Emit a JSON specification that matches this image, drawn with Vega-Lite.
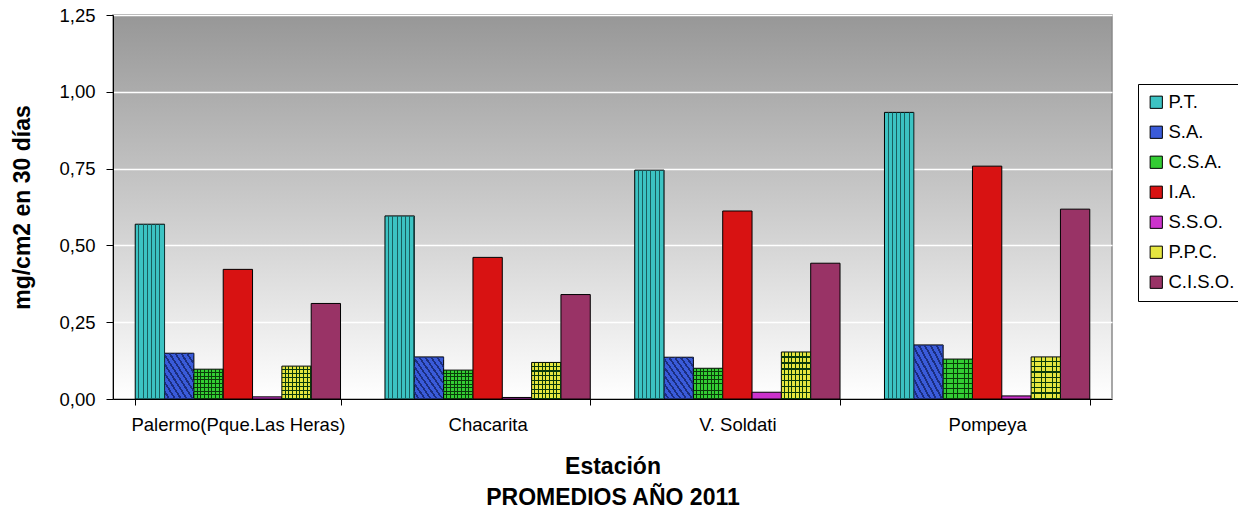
{
  "$schema": "https://vega.github.io/schema/vega-lite/v6.json",
  "autosize": {"type": "none"},
  "width": 999,
  "height": 384,
  "padding": {"left": 113, "top": 15, "right": 126, "bottom": 113},
  "background": "white",
  "config": {
    "font": "Liberation Sans",
    "view": {
      "stroke": "#8a8a8a",
      "strokeWidth": 1.5,
      "fill": {"gradient": "linear", "x1": 0, "y1": 0, "x2": 0, "y2": 1,
        "stops": [{"offset": 0, "color": "#979797"}, {"offset": 1, "color": "#ffffff"}]}
    },
    "axis": {"labelFont": "Liberation Sans", "titleFont": "Liberation Sans", "labelColor": "black", "titleColor": "black"}
  },
  "data": {"values": [
    {"estacion": "Palermo(Pque.Las Heras)", "serie": "P.T.", "valor": 0.569},
    {"estacion": "Palermo(Pque.Las Heras)", "serie": "S.A.", "valor": 0.149},
    {"estacion": "Palermo(Pque.Las Heras)", "serie": "C.S.A.", "valor": 0.097},
    {"estacion": "Palermo(Pque.Las Heras)", "serie": "I.A.", "valor": 0.422},
    {"estacion": "Palermo(Pque.Las Heras)", "serie": "S.S.O.", "valor": 0.007},
    {"estacion": "Palermo(Pque.Las Heras)", "serie": "P.P.C.", "valor": 0.107},
    {"estacion": "Palermo(Pque.Las Heras)", "serie": "C.I.S.O.", "valor": 0.311},
    {"estacion": "Chacarita", "serie": "P.T.", "valor": 0.596},
    {"estacion": "Chacarita", "serie": "S.A.", "valor": 0.137},
    {"estacion": "Chacarita", "serie": "C.S.A.", "valor": 0.094},
    {"estacion": "Chacarita", "serie": "I.A.", "valor": 0.461},
    {"estacion": "Chacarita", "serie": "S.S.O.", "valor": 0.005},
    {"estacion": "Chacarita", "serie": "P.P.C.", "valor": 0.119},
    {"estacion": "Chacarita", "serie": "C.I.S.O.", "valor": 0.34},
    {"estacion": "V. Soldati", "serie": "P.T.", "valor": 0.745},
    {"estacion": "V. Soldati", "serie": "S.A.", "valor": 0.136},
    {"estacion": "V. Soldati", "serie": "C.S.A.", "valor": 0.1},
    {"estacion": "V. Soldati", "serie": "I.A.", "valor": 0.612},
    {"estacion": "V. Soldati", "serie": "S.S.O.", "valor": 0.022},
    {"estacion": "V. Soldati", "serie": "P.P.C.", "valor": 0.153},
    {"estacion": "V. Soldati", "serie": "C.I.S.O.", "valor": 0.442},
    {"estacion": "Pompeya", "serie": "P.T.", "valor": 0.933},
    {"estacion": "Pompeya", "serie": "S.A.", "valor": 0.176},
    {"estacion": "Pompeya", "serie": "C.S.A.", "valor": 0.13},
    {"estacion": "Pompeya", "serie": "I.A.", "valor": 0.758},
    {"estacion": "Pompeya", "serie": "S.S.O.", "valor": 0.01},
    {"estacion": "Pompeya", "serie": "P.P.C.", "valor": 0.137},
    {"estacion": "Pompeya", "serie": "C.I.S.O.", "valor": 0.618}
  ]},
  "encoding": {
    "x": {"field": "estacion", "type": "nominal",
      "scale": {"domain": ["Palermo(Pque.Las Heras)", "Chacarita", "V. Soldati", "Pompeya"], "paddingInner": 0.178, "paddingOuter": 0.089},
      "axis": {"labelAngle": 0, "labelFontSize": 18.5, "labelLimit": 0, "tickBand": "extent", "tickColor": "black", "tickSize": 6, "domainColor": "black", "labelPadding": 10,
        "title": ["Estación", "PROMEDIOS AÑO 2011"], "titleFontSize": 23, "titleFontWeight": "bold", "titleLineHeight": 31, "titlePadding": 22}},
    "xOffset": {"field": "serie", "type": "nominal", "scale": {"domain": ["P.T.", "S.A.", "C.S.A.", "I.A.", "S.S.O.", "P.P.C.", "C.I.S.O."], "paddingInner": 0, "paddingOuter": 0}},
    "y": {"field": "valor", "type": "quantitative",
      "scale": {"domain": [0, 1.25], "nice": false},
      "axis": {"values": [0, 0.25, 0.5, 0.75, 1, 1.25], "labelExpr": "replace(format(datum.value, '.2f'), '.', ',')", "labelFontSize": 18.5, "labelPadding": 11,
        "tickColor": "black", "tickSize": 7, "domainColor": "black", "gridColor": "white", "gridWidth": 1.5, "gridOpacity": 1,
        "title": "mg/cm2 en 30 días", "titleFontSize": 23, "titleFontWeight": "bold", "titlePadding": 24}}
  },
  "layer": [
    {
      "mark": {"type": "bar", "stroke": "black", "strokeWidth": 1, "opacity": 1},
      "encoding": {
        "color": {"field": "serie", "type": "nominal",
          "scale": {"domain": ["P.T.", "S.A.", "C.S.A.", "I.A.", "S.S.O.", "P.P.C.", "C.I.S.O."],
            "range": ["#3CC3C3", "#3A5BD9", "#33CC33", "#D81212", "#CC33CC", "#E6E640", "#993366"]},
          "legend": {"title": null, "orient": "none", "legendX": 1025, "legendY": 69, "strokeColor": "black", "fillColor": "white", "padding": 9,
            "symbolType": "square", "symbolSize": 150, "symbolStrokeColor": "black", "symbolStrokeWidth": 1, "symbolOpacity": 1,
            "labelFontSize": 18.5, "labelColor": "black", "rowPadding": 11, "labelOffset": 3}}
      }
    },
    {
      "transform": [{"filter": "datum.serie === 'P.T.'"}],
      "mark": {"type": "bar", "strokeWidth": 0, "fill": {"gradient": "linear", "x1": 0, "y1": 0, "x2": 1, "y2": 0, "stops": [
        {"offset": 0, "color": "rgba(0,0,0,0)"}, {"offset": 0.1071, "color": "rgba(0,0,0,0)"}, {"offset": 0.1071, "color": "#1A5E5E"}, {"offset": 0.1429, "color": "#1A5E5E"},
        {"offset": 0.1429, "color": "rgba(0,0,0,0)"}, {"offset": 0.25, "color": "rgba(0,0,0,0)"}, {"offset": 0.25, "color": "#1A5E5E"}, {"offset": 0.2857, "color": "#1A5E5E"},
        {"offset": 0.2857, "color": "rgba(0,0,0,0)"}, {"offset": 0.3929, "color": "rgba(0,0,0,0)"}, {"offset": 0.3929, "color": "#1A5E5E"}, {"offset": 0.4286, "color": "#1A5E5E"},
        {"offset": 0.4286, "color": "rgba(0,0,0,0)"}, {"offset": 0.5357, "color": "rgba(0,0,0,0)"}, {"offset": 0.5357, "color": "#1A5E5E"}, {"offset": 0.5714, "color": "#1A5E5E"},
        {"offset": 0.5714, "color": "rgba(0,0,0,0)"}, {"offset": 0.6786, "color": "rgba(0,0,0,0)"}, {"offset": 0.6786, "color": "#1A5E5E"}, {"offset": 0.7143, "color": "#1A5E5E"},
        {"offset": 0.7143, "color": "rgba(0,0,0,0)"}, {"offset": 0.8214, "color": "rgba(0,0,0,0)"}, {"offset": 0.8214, "color": "#1A5E5E"}, {"offset": 0.8571, "color": "#1A5E5E"},
        {"offset": 0.8571, "color": "rgba(0,0,0,0)"}, {"offset": 0.9643, "color": "rgba(0,0,0,0)"}, {"offset": 0.9643, "color": "#1A5E5E"}, {"offset": 1, "color": "#1A5E5E"}
      ]}}
    },
    {
      "transform": [{"filter": "datum.serie === 'S.A.'"}],
      "mark": {"type": "bar", "strokeWidth": 0, "fill": {"gradient": "linear", "x1": 0, "y1": 1, "x2": 1, "y2": 0, "stops": [
        {"offset": 0, "color": "rgba(0,0,0,0)"}, {"offset": 0.065, "color": "rgba(0,0,0,0)"}, {"offset": 0.065, "color": "#1B2E80"}, {"offset": 0.1, "color": "#1B2E80"},
        {"offset": 0.1, "color": "rgba(0,0,0,0)"}, {"offset": 0.165, "color": "rgba(0,0,0,0)"}, {"offset": 0.165, "color": "#1B2E80"}, {"offset": 0.2, "color": "#1B2E80"},
        {"offset": 0.2, "color": "rgba(0,0,0,0)"}, {"offset": 0.265, "color": "rgba(0,0,0,0)"}, {"offset": 0.265, "color": "#1B2E80"}, {"offset": 0.3, "color": "#1B2E80"},
        {"offset": 0.3, "color": "rgba(0,0,0,0)"}, {"offset": 0.365, "color": "rgba(0,0,0,0)"}, {"offset": 0.365, "color": "#1B2E80"}, {"offset": 0.4, "color": "#1B2E80"},
        {"offset": 0.4, "color": "rgba(0,0,0,0)"}, {"offset": 0.465, "color": "rgba(0,0,0,0)"}, {"offset": 0.465, "color": "#1B2E80"}, {"offset": 0.5, "color": "#1B2E80"},
        {"offset": 0.5, "color": "rgba(0,0,0,0)"}, {"offset": 0.565, "color": "rgba(0,0,0,0)"}, {"offset": 0.565, "color": "#1B2E80"}, {"offset": 0.6, "color": "#1B2E80"},
        {"offset": 0.6, "color": "rgba(0,0,0,0)"}, {"offset": 0.665, "color": "rgba(0,0,0,0)"}, {"offset": 0.665, "color": "#1B2E80"}, {"offset": 0.7, "color": "#1B2E80"},
        {"offset": 0.7, "color": "rgba(0,0,0,0)"}, {"offset": 0.765, "color": "rgba(0,0,0,0)"}, {"offset": 0.765, "color": "#1B2E80"}, {"offset": 0.8, "color": "#1B2E80"},
        {"offset": 0.8, "color": "rgba(0,0,0,0)"}, {"offset": 0.865, "color": "rgba(0,0,0,0)"}, {"offset": 0.865, "color": "#1B2E80"}, {"offset": 0.9, "color": "#1B2E80"},
        {"offset": 0.9, "color": "rgba(0,0,0,0)"}, {"offset": 0.965, "color": "rgba(0,0,0,0)"}, {"offset": 0.965, "color": "#1B2E80"}, {"offset": 1, "color": "#1B2E80"}
      ]}}
    },
    {
      "transform": [{"filter": "datum.serie === 'C.S.A.' || datum.serie === 'P.P.C.'"}],
      "mark": {"type": "bar", "strokeWidth": 0, "fill": {"gradient": "linear", "x1": 0, "y1": 0, "x2": 1, "y2": 0, "stops": [
        {"offset": 0, "color": "rgba(0,0,0,0)"}, {"offset": 0.09375, "color": "rgba(0,0,0,0)"}, {"offset": 0.09375, "color": "#0A3A0A"}, {"offset": 0.125, "color": "#0A3A0A"},
        {"offset": 0.125, "color": "rgba(0,0,0,0)"}, {"offset": 0.21875, "color": "rgba(0,0,0,0)"}, {"offset": 0.21875, "color": "#0A3A0A"}, {"offset": 0.25, "color": "#0A3A0A"},
        {"offset": 0.25, "color": "rgba(0,0,0,0)"}, {"offset": 0.34375, "color": "rgba(0,0,0,0)"}, {"offset": 0.34375, "color": "#0A3A0A"}, {"offset": 0.375, "color": "#0A3A0A"},
        {"offset": 0.375, "color": "rgba(0,0,0,0)"}, {"offset": 0.46875, "color": "rgba(0,0,0,0)"}, {"offset": 0.46875, "color": "#0A3A0A"}, {"offset": 0.5, "color": "#0A3A0A"},
        {"offset": 0.5, "color": "rgba(0,0,0,0)"}, {"offset": 0.59375, "color": "rgba(0,0,0,0)"}, {"offset": 0.59375, "color": "#0A3A0A"}, {"offset": 0.625, "color": "#0A3A0A"},
        {"offset": 0.625, "color": "rgba(0,0,0,0)"}, {"offset": 0.71875, "color": "rgba(0,0,0,0)"}, {"offset": 0.71875, "color": "#0A3A0A"}, {"offset": 0.75, "color": "#0A3A0A"},
        {"offset": 0.75, "color": "rgba(0,0,0,0)"}, {"offset": 0.84375, "color": "rgba(0,0,0,0)"}, {"offset": 0.84375, "color": "#0A3A0A"}, {"offset": 0.875, "color": "#0A3A0A"},
        {"offset": 0.875, "color": "rgba(0,0,0,0)"}, {"offset": 0.96875, "color": "rgba(0,0,0,0)"}, {"offset": 0.96875, "color": "#0A3A0A"}, {"offset": 1, "color": "#0A3A0A"}
      ]}}
    },
    {
      "transform": [{"filter": "datum.serie === 'C.S.A.' || datum.serie === 'P.P.C.'"}],
      "mark": {"type": "bar", "strokeWidth": 0, "fill": {"gradient": "linear", "x1": 0, "y1": 0, "x2": 0, "y2": 1, "stops": [
        {"offset": 0, "color": "rgba(0,0,0,0)"}, {"offset": 0.09375, "color": "rgba(0,0,0,0)"}, {"offset": 0.09375, "color": "#0A3A0A"}, {"offset": 0.125, "color": "#0A3A0A"},
        {"offset": 0.125, "color": "rgba(0,0,0,0)"}, {"offset": 0.21875, "color": "rgba(0,0,0,0)"}, {"offset": 0.21875, "color": "#0A3A0A"}, {"offset": 0.25, "color": "#0A3A0A"},
        {"offset": 0.25, "color": "rgba(0,0,0,0)"}, {"offset": 0.34375, "color": "rgba(0,0,0,0)"}, {"offset": 0.34375, "color": "#0A3A0A"}, {"offset": 0.375, "color": "#0A3A0A"},
        {"offset": 0.375, "color": "rgba(0,0,0,0)"}, {"offset": 0.46875, "color": "rgba(0,0,0,0)"}, {"offset": 0.46875, "color": "#0A3A0A"}, {"offset": 0.5, "color": "#0A3A0A"},
        {"offset": 0.5, "color": "rgba(0,0,0,0)"}, {"offset": 0.59375, "color": "rgba(0,0,0,0)"}, {"offset": 0.59375, "color": "#0A3A0A"}, {"offset": 0.625, "color": "#0A3A0A"},
        {"offset": 0.625, "color": "rgba(0,0,0,0)"}, {"offset": 0.71875, "color": "rgba(0,0,0,0)"}, {"offset": 0.71875, "color": "#0A3A0A"}, {"offset": 0.75, "color": "#0A3A0A"},
        {"offset": 0.75, "color": "rgba(0,0,0,0)"}, {"offset": 0.84375, "color": "rgba(0,0,0,0)"}, {"offset": 0.84375, "color": "#0A3A0A"}, {"offset": 0.875, "color": "#0A3A0A"},
        {"offset": 0.875, "color": "rgba(0,0,0,0)"}, {"offset": 0.96875, "color": "rgba(0,0,0,0)"}, {"offset": 0.96875, "color": "#0A3A0A"}, {"offset": 1, "color": "#0A3A0A"}
      ]}}
    }
  ]
}
